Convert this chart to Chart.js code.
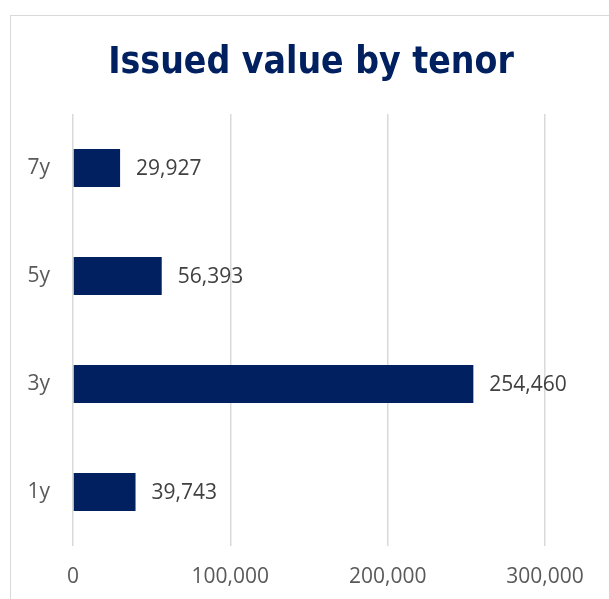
<!DOCTYPE html>
<html>
<head>
<meta charset="utf-8">
<script src="https://cdn.jsdelivr.net/npm/chart.js@4"></script>
<style>
  html, body { margin: 0; padding: 0; background: #fff; overflow: hidden; }
  #frame {
    position: absolute; left: 10px; top: 15px; width: 640px; height: 640px;
    border: 1.5px solid #d9d9d9; box-sizing: border-box;
  }
  #wrap { position: absolute; left: 0; top: 0; width: 609px; height: 599px; }
</style>
</head>
<body>
<div id="frame"></div>
<div id="wrap"><canvas id="chart"></canvas></div>
<script>
  // Chart data
  const chartTitle = 'Issued value by tenor';
  const tenors = ['7y', '5y', '3y', '1y'];
  const issuedValues = [29927, 56393, 254460, 39743];
  const xTicks = [0, 100000, 200000, 300000];

  const NAVY = '#002060';
  const LABEL_FONT = "'Open Sans', sans-serif";

  function fmt(n) { return n.toLocaleString('en-US'); }

  // Title centred on the whole chart frame, not the plot area
  const titleText = {
    id: 'titleText',
    afterDraw: function (chart) {
      const ctx = chart.ctx;
      ctx.save();
      ctx.font = "bold 37px 'DejaVu Sans Condensed', 'DejaVu Sans', sans-serif";
      ctx.fillStyle = NAVY;
      ctx.textAlign = 'center';
      ctx.textBaseline = 'alphabetic';
      ctx.fillText(chartTitle, 311, 73);
      ctx.restore();
    }
  };

  // Value labels to the right of each bar
  const valueLabels = {
    id: 'valueLabels',
    afterDatasetsDraw: function (chart) {
      const ctx = chart.ctx;
      const meta = chart.getDatasetMeta(0);
      ctx.save();
      ctx.font = '21px ' + LABEL_FONT;
      ctx.fillStyle = '#404040';
      ctx.textBaseline = 'middle';
      ctx.textAlign = 'left';
      meta.data.forEach(function (bar, i) {
        ctx.fillText(fmt(issuedValues[i]), bar.x + 16, bar.y + 1);
      });
      ctx.restore();
    }
  };

  new Chart(document.getElementById('chart'), {
    type: 'bar',
    data: {
      labels: tenors,
      datasets: [{
        data: issuedValues,
        backgroundColor: NAVY,
        borderWidth: 0,
        barPercentage: 0.352,
        categoryPercentage: 1
      }]
    },
    options: {
      indexAxis: 'y',
      responsive: true,
      maintainAspectRatio: false,
      animation: false,
      layout: { padding: { left: 0, right: 64, top: 114, bottom: 0 } },
      plugins: {
        legend: { display: false },
        tooltip: { enabled: false },
        title: { display: false }
      },
      scales: {
        x: {
          min: 0,
          max: 300000,
          afterBuildTicks: function (scale) {
            scale.ticks = xTicks.map(function (v) { return { value: v }; });
          },
          afterFit: function (scale) { scale.height = 53; },
          grid: { color: '#d9d9d9', lineWidth: 1.5, drawTicks: false },
          border: { display: false },
          ticks: {
            color: '#595959',
            font: { family: LABEL_FONT, size: 21 },
            padding: 18,
            callback: function (v) { return fmt(v); }
          }
        },
        y: {
          afterFit: function (scale) { scale.width = 73; },
          grid: { display: false, drawTicks: false },
          border: { display: false },
          ticks: {
            color: '#595959',
            font: { family: LABEL_FONT, size: 21 },
            padding: 23
          }
        }
      }
    },
    plugins: [valueLabels, titleText]
  });
</script>
</body>
</html>
